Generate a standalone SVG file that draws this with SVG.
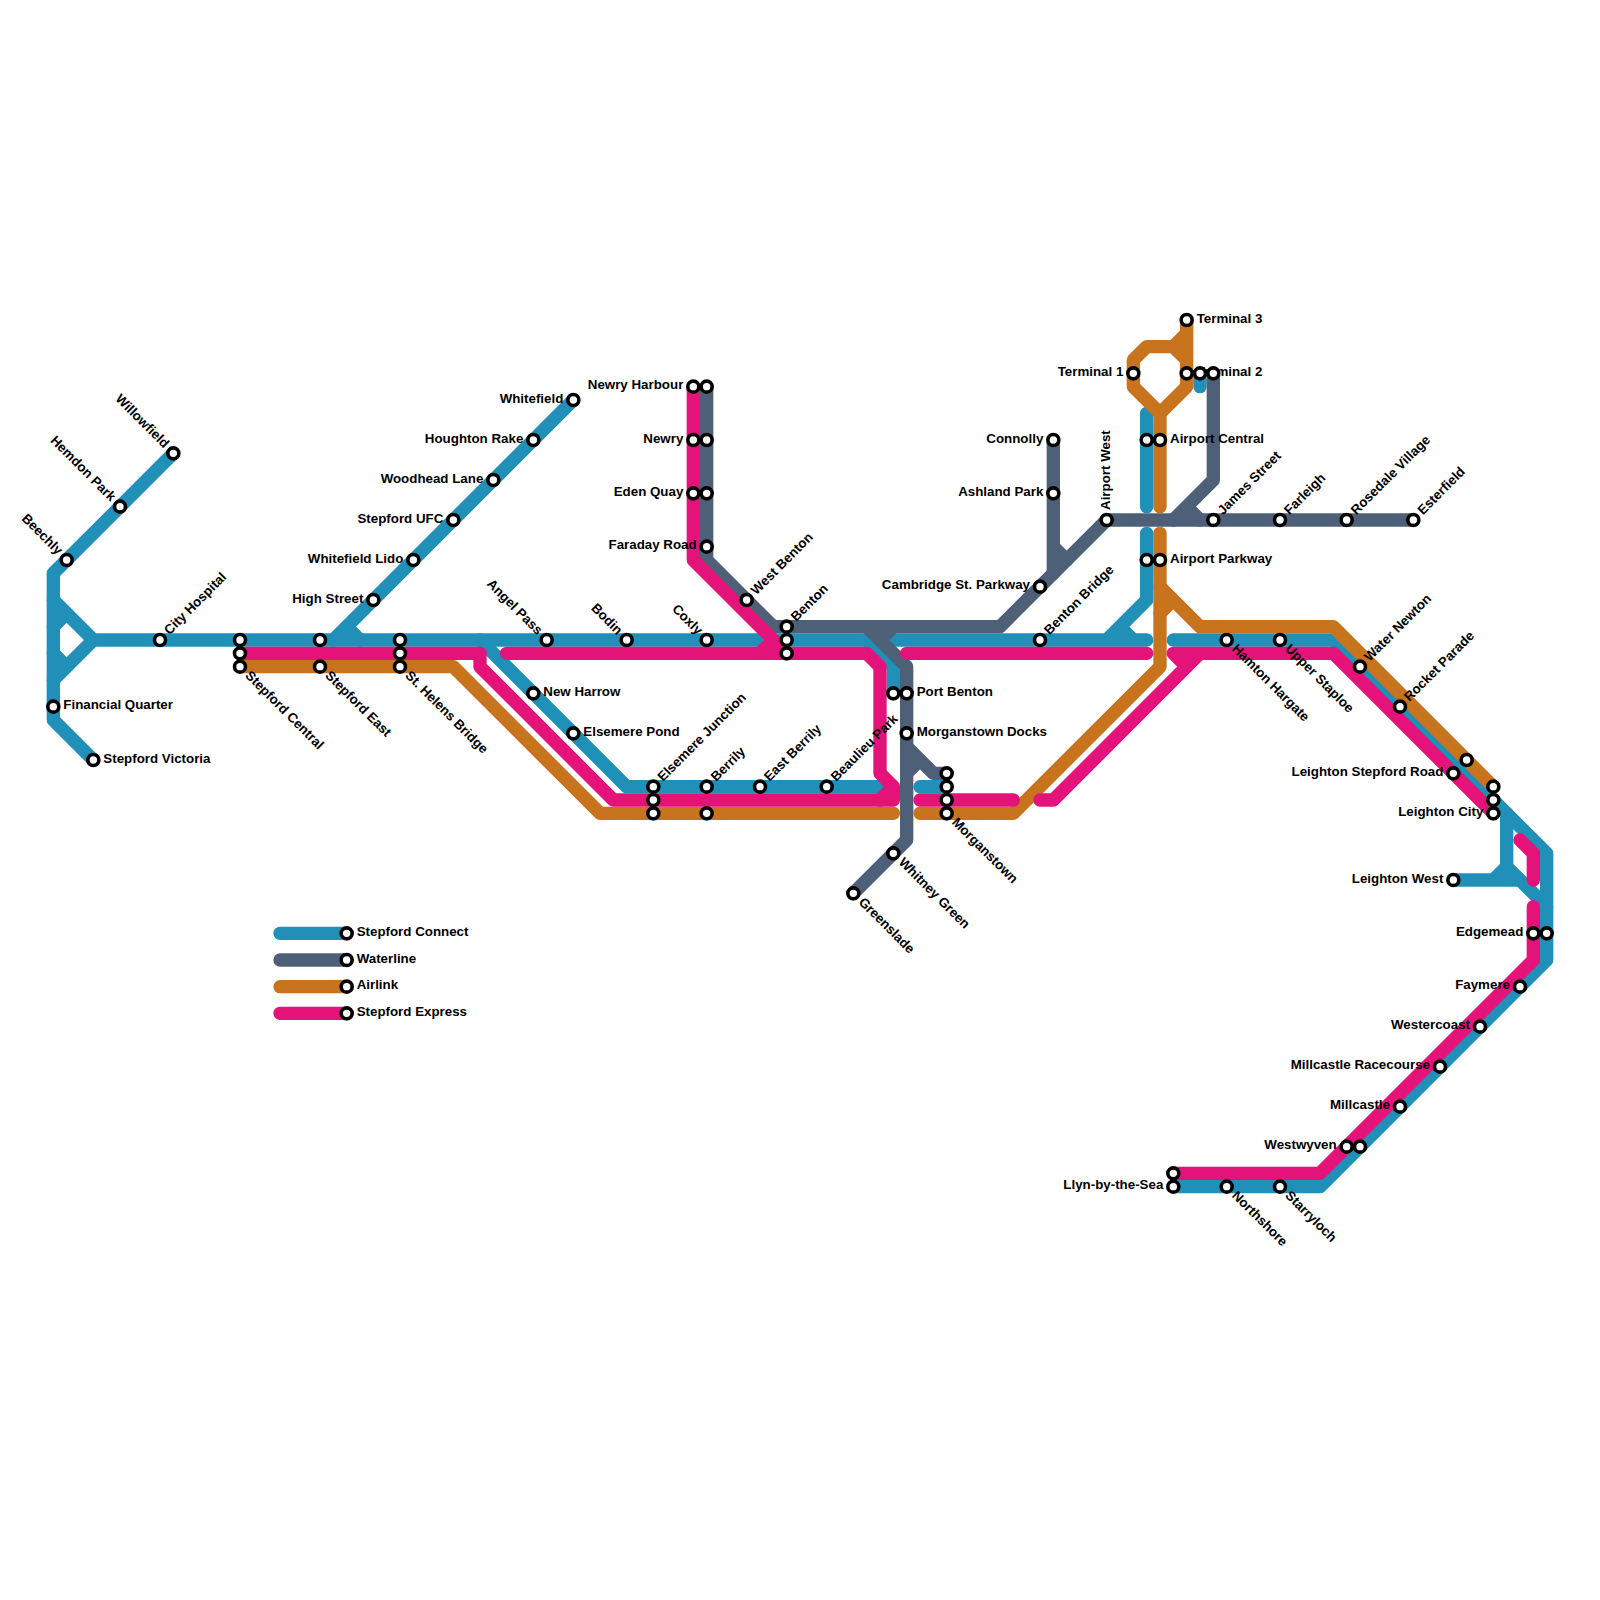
<svg xmlns="http://www.w3.org/2000/svg" width="1600" height="1600" viewBox="0 0 1600 1600">
<style>
.l{fill:none;stroke-width:1;stroke-linecap:round;stroke-linejoin:round}
.b{stroke:#2090b8}.g{stroke:#4e6078}.o{stroke:#c8731e}.p{stroke:#e3137a}
circle{fill:#fff;stroke:#000;stroke-width:3.6;r:5.5px}
text{font-family:"Liberation Sans",Arial,sans-serif;font-weight:700;font-size:13.33px;fill:#000}
.e{text-anchor:end}
</style>
<rect width="1600" height="1600" fill="#fff"/>
<g id="connectors" transform="scale(13.33333)">
<g id="line-stepford-connect" class="l b">
<path d="M13 34L4 43V54L7 57"/>
<path d="M4 45L7 48L4 51M4 47L5 46M4 49L5 50"/>
<path d="M7 48H65L67 50V52"/>
<path d="M43 30L25 48M26 47L27 48"/>
<path d="M36 48L47 59H66"/>
<path d="M69 59H71"/>
<path d="M67 48H86M86 31V38M86 40V45L83 48M84 47L85 48"/>
<path d="M90 28V29"/>
<path d="M88 48H100L116 64V72L99 89H88"/>
<path d="M113 61V65L112 66M109 66H114L116 68M113 65L114 66"/>
</g>
<g id="line-waterline" class="l g">
<path d="M53 29V42L58 47H75L83 39H106"/>
<path d="M65 47L68 50V63L64 67M66 48L67 47"/>
<path d="M68 56L70 58H71M68 58L69 57"/>
<path d="M79 33V43M79 41L80 42"/>
<path d="M91 28V36L88 39M89 38L90 39"/>
</g>
<g id="line-airlink" class="l o">
<path d="M18 50H34L45 61H67"/>
<path d="M69 61H76L87 50V40"/>
<path d="M87 44L90 47H100L112 59M87 46L88 45"/>
<path d="M87 38V31L85 29V27L86 26H88L89 27M88 26L89 25M89 24V29L87 31"/>
</g>
<g id="line-stepford-express" class="l p">
<path d="M18 49H36V50L46 60H67V59L66 58V50L65 49H38"/>
<path d="M66 60L67 59"/>
<path d="M52 29V42L59 49M57 49L58 48"/>
<path d="M68 49H86"/>
<path d="M69 60H76"/>
<path d="M78 60H79L90 49H100L112 61M88 49H90M88 49L89 50"/>
<path d="M114 63L115 64V66"/>
<path d="M115 68V72L99 88H88"/>
</g>
<g id="legend-lines" class="l">
<path class="b" d="M21 70H26"/><path class="g" d="M21 72H26"/><path class="o" d="M21 74H26"/><path class="p" d="M21 76H26"/>
</g>
</g>
<g id="stations">
<g id="willowfield"><circle cx="173.33" cy="453.33"/><text class="e" transform="translate(173.33 453.33) rotate(45)" x="-10" y="3.5">Willowfield</text></g>
<g id="hemdon-park"><circle cx="120" cy="506.67"/><text class="e" transform="translate(120 506.67) rotate(45)" x="-10" y="3.5">Hemdon Park</text></g>
<g id="beechly"><circle cx="66.67" cy="560"/><text class="e" transform="translate(66.67 560) rotate(45)" x="-10" y="3.5">Beechly</text></g>
<g id="financial-quarter"><circle cx="53.33" cy="706.67"/><text x="63.33" y="709.4">Financial Quarter</text></g>
<g id="stepford-victoria"><circle cx="93.33" cy="760"/><text x="103.33" y="762.7">Stepford Victoria</text></g>
<g id="city-hospital"><circle cx="160" cy="640"/><text transform="translate(160 640) rotate(-45)" x="10" y="3.5">City Hospital</text></g>
<g id="stepford-central"><circle cx="240" cy="640"/><circle cx="240" cy="653.33"/><circle cx="240" cy="666.67"/><text transform="translate(240 666.67) rotate(45)" x="10" y="3.5">Stepford Central</text></g>
<g id="stepford-east"><circle cx="320" cy="640"/><circle cx="320" cy="666.67"/><text transform="translate(320 666.67) rotate(45)" x="10" y="3.5">Stepford East</text></g>
<g id="st-helens-bridge"><circle cx="400" cy="640"/><circle cx="400" cy="653.33"/><circle cx="400" cy="666.67"/><text transform="translate(400 666.67) rotate(45)" x="10" y="3.5">St. Helens Bridge</text></g>
<g id="high-street"><circle cx="373.33" cy="600"/><text class="e" x="363.33" y="602.7">High Street</text></g>
<g id="whitefield-lido"><circle cx="413.33" cy="560"/><text class="e" x="403.33" y="562.7">Whitefield Lido</text></g>
<g id="stepford-ufc"><circle cx="453.33" cy="520"/><text class="e" x="443.33" y="522.7">Stepford UFC</text></g>
<g id="woodhead-lane"><circle cx="493.33" cy="480"/><text class="e" x="483.33" y="482.7">Woodhead Lane</text></g>
<g id="houghton-rake"><circle cx="533.33" cy="440"/><text class="e" x="523.33" y="442.7">Houghton Rake</text></g>
<g id="whitefield"><circle cx="573.33" cy="400"/><text class="e" x="563.33" y="402.7">Whitefield</text></g>
<g id="angel-pass"><circle cx="546.67" cy="640"/><text class="e" transform="translate(546.67 640) rotate(45)" x="-10" y="3.5">Angel Pass</text></g>
<g id="bodin"><circle cx="626.67" cy="640"/><text class="e" transform="translate(626.67 640) rotate(45)" x="-10" y="3.5">Bodin</text></g>
<g id="coxly"><circle cx="706.67" cy="640"/><text class="e" transform="translate(706.67 640) rotate(45)" x="-10" y="3.5">Coxly</text></g>
<g id="new-harrow"><circle cx="533.33" cy="693.33"/><text x="543.33" y="696">New Harrow</text></g>
<g id="elsemere-pond"><circle cx="573.33" cy="733.33"/><text x="583.33" y="736">Elsemere Pond</text></g>
<g id="elsemere-junction"><circle cx="653.33" cy="786.67"/><circle cx="653.33" cy="800"/><circle cx="653.33" cy="813.33"/><text transform="translate(653.33 786.67) rotate(-45)" x="10" y="3.5">Elsemere Junction</text></g>
<g id="berrily"><circle cx="706.67" cy="786.67"/><circle cx="706.67" cy="813.33"/><text transform="translate(706.67 786.67) rotate(-45)" x="10" y="3.5">Berrily</text></g>
<g id="east-berrily"><circle cx="760" cy="786.67"/><text transform="translate(760 786.67) rotate(-45)" x="10" y="3.5">East Berrily</text></g>
<g id="beaulieu-park"><circle cx="826.67" cy="786.67"/><text transform="translate(826.67 786.67) rotate(-45)" x="10" y="3.5">Beaulieu Park</text></g>
<g id="newry-harbour"><circle cx="693.33" cy="386.67"/><circle cx="706.67" cy="386.67"/><text class="e" x="683.33" y="389.4">Newry Harbour</text></g>
<g id="newry"><circle cx="693.33" cy="440"/><circle cx="706.67" cy="440"/><text class="e" x="683.33" y="442.7">Newry</text></g>
<g id="eden-quay"><circle cx="693.33" cy="493.33"/><circle cx="706.67" cy="493.33"/><text class="e" x="683.33" y="496">Eden Quay</text></g>
<g id="faraday-road"><circle cx="706.67" cy="546.67"/><text class="e" x="696.67" y="549.4">Faraday Road</text></g>
<g id="west-benton"><circle cx="746.67" cy="600"/><text transform="translate(746.67 600) rotate(-45)" x="10" y="3.5">West Benton</text></g>
<g id="benton"><circle cx="786.67" cy="626.67"/><circle cx="786.67" cy="640"/><circle cx="786.67" cy="653.33"/><text transform="translate(786.67 626.67) rotate(-45)" x="10" y="3.5">Benton</text></g>
<g id="port-benton"><circle cx="893.33" cy="693.33"/><circle cx="906.67" cy="693.33"/><text x="916.67" y="696">Port Benton</text></g>
<g id="morganstown-docks"><circle cx="906.67" cy="733.33"/><text x="916.67" y="736">Morganstown Docks</text></g>
<g id="morganstown"><circle cx="946.67" cy="773.33"/><circle cx="946.67" cy="786.67"/><circle cx="946.67" cy="800"/><circle cx="946.67" cy="813.33"/><text transform="translate(946.67 813.33) rotate(45)" x="10" y="3.5">Morganstown</text></g>
<g id="whitney-green"><circle cx="893.33" cy="853.33"/><text transform="translate(893.33 853.33) rotate(45)" x="10" y="3.5">Whitney Green</text></g>
<g id="greenslade"><circle cx="853.33" cy="893.33"/><text transform="translate(853.33 893.33) rotate(45)" x="10" y="3.5">Greenslade</text></g>
<g id="benton-bridge"><circle cx="1040" cy="640"/><text transform="translate(1040 640) rotate(-45)" x="10" y="3.5">Benton Bridge</text></g>
<g id="cambridge-st-parkway"><circle cx="1040" cy="586.67"/><text class="e" x="1030" y="589.4">Cambridge St. Parkway</text></g>
<g id="ashland-park"><circle cx="1053.33" cy="493.33"/><text class="e" x="1043.33" y="496">Ashland Park</text></g>
<g id="connolly"><circle cx="1053.33" cy="440"/><text class="e" x="1043.33" y="442.7">Connolly</text></g>
<g id="airport-west"><circle cx="1106.67" cy="520"/><text transform="translate(1106.67 520) rotate(-90)" x="10" y="3.5">Airport West</text></g>
<g id="terminal-1"><circle cx="1133.33" cy="373.33"/><text class="e" x="1123.33" y="376">Terminal 1</text></g>
<g id="terminal-3"><circle cx="1186.67" cy="320"/><text x="1196.67" y="322.7">Terminal 3</text></g>
<g id="terminal-2"><text x="1196.67" y="376">Terminal 2</text><circle cx="1186.67" cy="373.33"/><circle cx="1200" cy="373.33"/><circle cx="1213.33" cy="373.33"/></g>
<g id="airport-central"><circle cx="1146.67" cy="440"/><circle cx="1160" cy="440"/><text x="1170" y="442.7">Airport Central</text></g>
<g id="airport-parkway"><circle cx="1146.67" cy="560"/><circle cx="1160" cy="560"/><text x="1170" y="562.7">Airport Parkway</text></g>
<g id="james-street"><circle cx="1213.33" cy="520"/><text transform="translate(1213.33 520) rotate(-45)" x="10" y="3.5">James Street</text></g>
<g id="farleigh"><circle cx="1280" cy="520"/><text transform="translate(1280 520) rotate(-45)" x="10" y="3.5">Farleigh</text></g>
<g id="rosedale-village"><circle cx="1346.67" cy="520"/><text transform="translate(1346.67 520) rotate(-45)" x="10" y="3.5">Rosedale Village</text></g>
<g id="esterfield"><circle cx="1413.33" cy="520"/><text transform="translate(1413.33 520) rotate(-45)" x="10" y="3.5">Esterfield</text></g>
<g id="hamton-hargate"><circle cx="1226.67" cy="640"/><text transform="translate(1226.67 640) rotate(45)" x="10" y="3.5">Hamton Hargate</text></g>
<g id="upper-staploe"><circle cx="1280" cy="640"/><text transform="translate(1280 640) rotate(45)" x="10" y="3.5">Upper Staploe</text></g>
<g id="water-newton"><circle cx="1360" cy="666.67"/><text transform="translate(1360 666.67) rotate(-45)" x="10" y="3.5">Water Newton</text></g>
<g id="rocket-parade"><circle cx="1400" cy="706.67"/><text transform="translate(1400 706.67) rotate(-45)" x="10" y="3.5">Rocket Parade</text></g>
<g id="leighton-stepford-road"><circle cx="1466.67" cy="760"/><circle cx="1453.33" cy="773.33"/><text class="e" x="1443.33" y="776">Leighton Stepford Road</text></g>
<g id="leighton-city"><circle cx="1493.33" cy="786.67"/><circle cx="1493.33" cy="800"/><circle cx="1493.33" cy="813.33"/><text class="e" x="1483.33" y="816">Leighton City</text></g>
<g id="leighton-west"><circle cx="1453.33" cy="880"/><text class="e" x="1443.33" y="882.7">Leighton West</text></g>
<g id="edgemead"><circle cx="1533.33" cy="933.33"/><circle cx="1546.67" cy="933.33"/><text class="e" x="1523.33" y="936">Edgemead</text></g>
<g id="faymere"><circle cx="1520" cy="986.67"/><text class="e" x="1510" y="989.4">Faymere</text></g>
<g id="westercoast"><circle cx="1480" cy="1026.67"/><text class="e" x="1470" y="1029.4">Westercoast</text></g>
<g id="millcastle-racecourse"><circle cx="1440" cy="1066.67"/><text class="e" x="1430" y="1069.4">Millcastle Racecourse</text></g>
<g id="millcastle"><circle cx="1400" cy="1106.67"/><text class="e" x="1390" y="1109.4">Millcastle</text></g>
<g id="westwyven"><circle cx="1346.67" cy="1146.67"/><circle cx="1360" cy="1146.67"/><text class="e" x="1336.67" y="1149.4">Westwyven</text></g>
<g id="starryloch"><circle cx="1280" cy="1186.67"/><text transform="translate(1280 1186.67) rotate(45)" x="10" y="3.5">Starryloch</text></g>
<g id="northshore"><circle cx="1226.67" cy="1186.67"/><text transform="translate(1226.67 1186.67) rotate(45)" x="10" y="3.5">Northshore</text></g>
<g id="llyn-by-the-sea"><circle cx="1173.33" cy="1173.33"/><circle cx="1173.33" cy="1186.67"/><text class="e" x="1163.33" y="1189.4">Llyn-by-the-Sea</text></g>
</g>
<g id="legend">
<g id="legend-stepford-connect"><circle cx="346.67" cy="933.33"/><text x="356.67" y="936">Stepford Connect</text></g>
<g id="legend-waterline"><circle cx="346.67" cy="960"/><text x="356.67" y="962.7">Waterline</text></g>
<g id="legend-airlink"><circle cx="346.67" cy="986.67"/><text x="356.67" y="989.4">Airlink</text></g>
<g id="legend-stepford-express"><circle cx="346.67" cy="1013.33"/><text x="356.67" y="1016">Stepford Express</text></g>
</g>
</svg>
